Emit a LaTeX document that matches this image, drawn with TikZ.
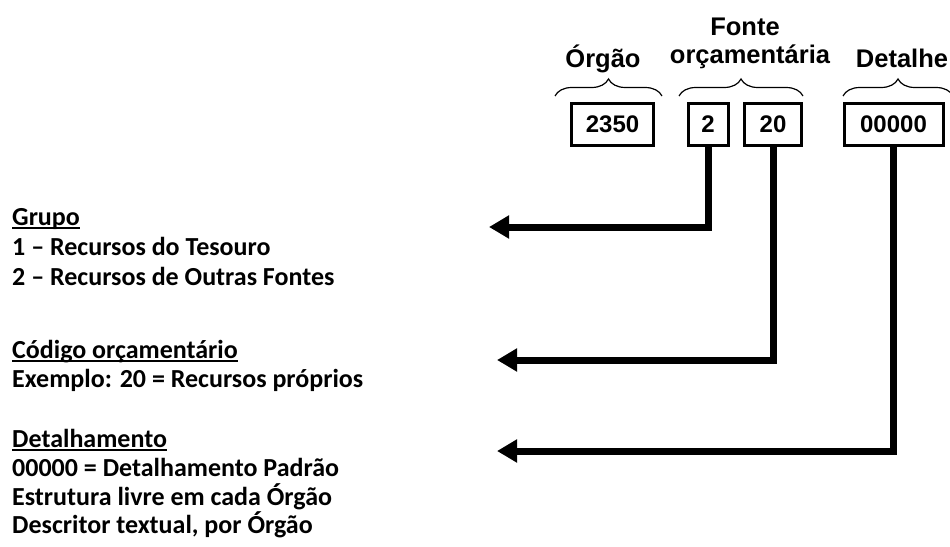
\documentclass[tikz,border=0pt]{standalone}
\usepackage{fontspec}
\setmainfont{Carlito}
\newfontfamily\arialfont{Liberation Sans}
\usetikzlibrary{
  arrows.meta,
  decorations.pathreplacing
}
\newcommand{\sublinha}[1]{\setbox0\hbox{#1}\rlap{\rule[-3.5pt]{\wd0}{1.6pt}}\box0}
\tikzset{
  caixa/.style={
    draw,
    line width=3pt,
    inner sep=0pt,
    minimum height=42pt,
    font=\arialfont\bfseries\fontsize{24}{28}\selectfont},
  rotulo/.style={
    anchor=base,
    inner sep=0pt,
    font=\arialfont\bfseries\fontsize{25.5}{30}\selectfont},
  chave/.style={
    decorate,
    decoration={brace, amplitude=17pt},
    line width=1.2pt},
  seta/.style={
    line width=7pt,
    -{Triangle[length=20pt, width=22pt]}},
  legenda/.style={
    anchor=base west,
    inner sep=0pt,
    font=\bfseries\fontsize{26}{30}\selectfont}
  }

\begin{document}
\begin{tikzpicture}[x=1pt, y=-1pt]
      \useasboundingbox (0,0) rectangle (950,546);
      % caixas do codigo
      \node [caixa, minimum width=82pt] (orgao) at (612.5,124.5) {2350};
      \node [caixa, minimum width=40pt] (grupo) at (708,124.5) {2};
      \node [caixa, minimum width=57pt] (codigo) at (773,124.5) {20};
      \node [caixa, minimum width=99pt] (detalhe) at (893.5,124.5) {00000};
      % chaves e titulos
      \draw [chave] (555,96) -- (662,96);
      \draw [chave] (679,96) -- (803,96);
      \draw [chave] (843,96) -- (953,96);
      \node [rotulo] (torgao) at (603,67) {Órgão};
      \node [rotulo] (tfonte) at (745,35) {Fonte};
      \node [rotulo] (torc) at (750,63) {orçamentária};
      \node [rotulo] (tdetalhe) at (902,67) {Detalhe};
      % legendas
      \node [legenda] (g0) at (12,225) {\sublinha{Grupo}};
      \node [legenda] (g1) at (12,255) {1 – Recursos do Tesouro};
      \node [legenda] (g2) at (12,285) {2 – Recursos de Outras Fontes};
      \node [legenda] (c0) at (12,358) {\sublinha{Código orçamentário}};
      \node [legenda] (c1) at (12,387) {Exemplo: 20 = Recursos próprios};
      \node [legenda] (d0) at (12,447) {\sublinha{Detalhamento}};
      \node [legenda] (d1) at (12,476) {00000 = Detalhamento Padrão};
      \node [legenda] (d2) at (12,505) {Estrutura livre em cada Órgão};
      \node [legenda] (d3) at (12,533) {Descritor textual, por Órgão};
      % setas
      \coordinate (pg) at (489,227);
      \coordinate (pc) at (497,360);
      \coordinate (pd) at (497,451);
      \draw [seta] (grupo.south) |- (pg);
      \draw [seta] (codigo.south) |- (pc);
      \draw [seta] (detalhe.south) |- (pd);
    \end{tikzpicture}
\end{document}
